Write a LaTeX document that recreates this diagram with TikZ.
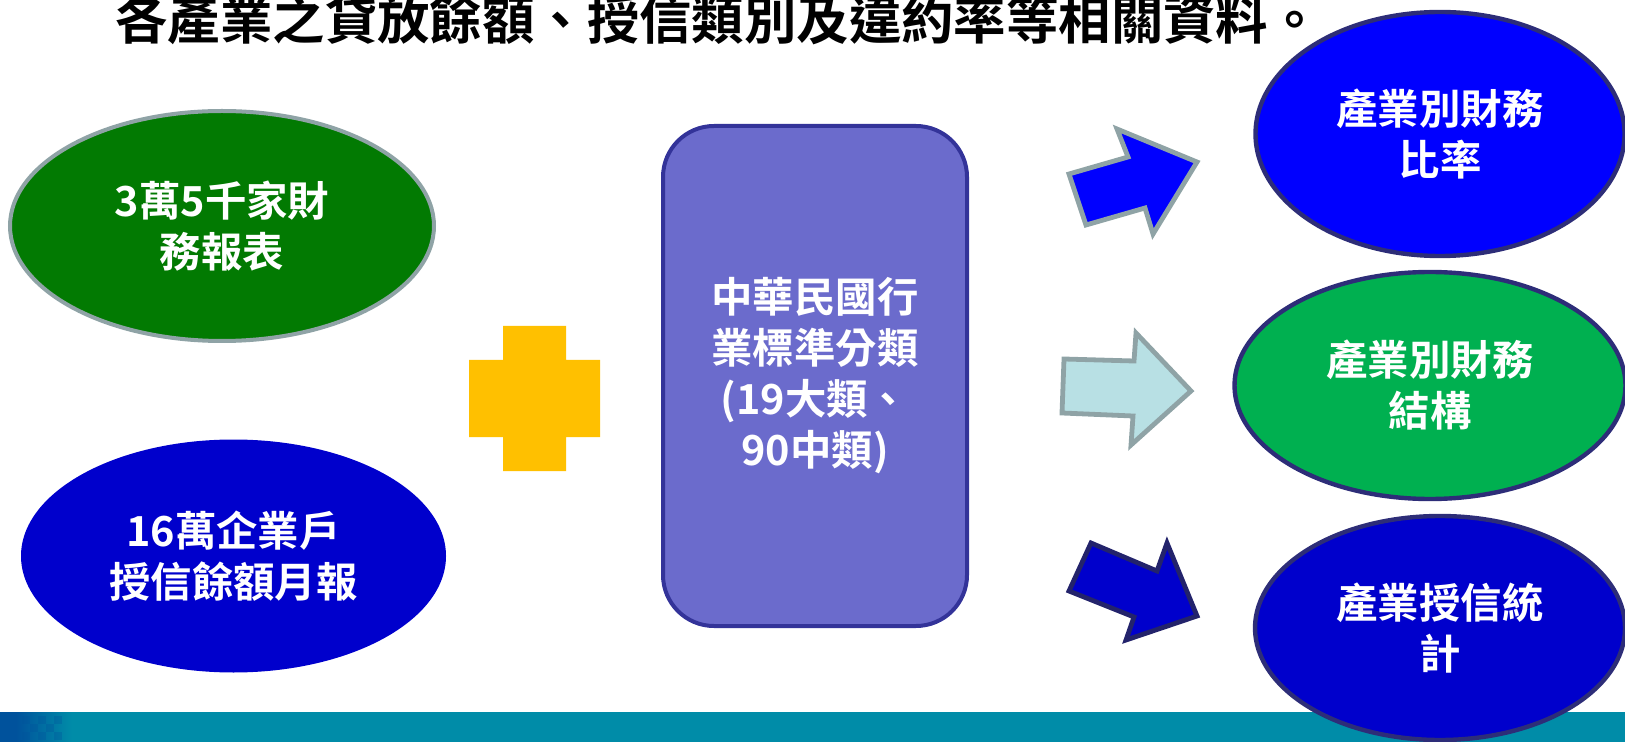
\documentclass[tikz,border=0pt]{standalone}
\usepackage{fontspec}
\newfontfamily\cjkb{Noto Sans CJK TC Bold}
\usetikzlibrary{shapes.geometric}
\definecolor{lgreen}{RGB}{2,122,2}
\definecolor{lgray}{RGB}{143,163,166}
\definecolor{dblue}{RGB}{0,0,204}
\definecolor{bblue}{RGB}{0,0,255}
\definecolor{rgreen}{RGB}{0,176,80}
\definecolor{navy}{RGB}{45,45,120}
\definecolor{boxfill}{RGB}{107,107,204}
\definecolor{boxline}{RGB}{51,51,153}
\definecolor{plusy}{RGB}{255,192,0}
\definecolor{lcyan}{RGB}{184,224,228}
\definecolor{arrnavy}{RGB}{35,35,107}
\definecolor{barteal}{RGB}{0,140,168}
\definecolor{bardark}{RGB}{0,82,156}
\tikzset{
  lbl/.style={text=white, align=center, inner sep=0pt,
    font=\cjkb\fontsize{20.7}{25.5}\selectfont},
  oval/.style={ellipse, lbl},
  blockarrow/.style={line width=2.4pt, line join=miter, miter limit=10},
}
\begin{document}
\begin{tikzpicture}[x=0.5pt,y=-0.5pt]
\useasboundingbox (0,0) rectangle (1625,742);
% bottom bar
\fill[barteal] (0,712) rectangle (1625,742);
\shade[left color=bardark, right color=barteal] (16,712) rectangle (72,742);
\fill[bardark] (0,712) rectangle (17,742);
\foreach \x/\y in {22/716,38/716,30/724,46/724,22/732,38/732,54/716,54/732}
  \fill[bardark, opacity=0.3] (\x,\y) rectangle ++(8,8);
% left ovals
\node[oval, fill=lgreen, draw=lgray, line width=2pt, minimum width=212pt, minimum height=115pt]
  (fin) at (222,226) {3萬5千家財\\務報表};
\node[oval, fill=dblue, minimum width=212.5pt, minimum height=116.5pt]
  (loan) at (233.5,556) {16萬企業戶\\授信餘額月報};
% plus
\fill[plusy] (503,360) -- (503,326) -- (566,326) -- (566,360) -- (600,360) -- (600,437)
  -- (566,437) -- (566,471) -- (503,471) -- (503,437) -- (469,437) -- (469,360) -- cycle;
% centre box
\node[lbl, rectangle, rounded corners=25.5pt, fill=boxfill, draw=boxline, line width=2pt,
  minimum width=152pt, minimum height=250pt] (std) at (815,376)
  {中華民國行\\業標準分類\\(19大類、\\90中類)};
% block arrows
\draw[blockarrow, fill=bblue, draw=lgray] (1086,225) -- (1069,174) -- (1128,157) -- (1117,129)
  -- (1197,162) -- (1153,234) -- (1145,208) -- cycle;
\draw[blockarrow, fill=lcyan, draw=lgray] (1064,359) -- (1134,361) -- (1136,333) -- (1191,391)
  -- (1131,445) -- (1133,416) -- (1062,413) -- cycle;
\draw[blockarrow, fill=dblue, draw=arrnavy] (1091,543) -- (1157,571) -- (1167,543) -- (1197,616)
  -- (1126,640) -- (1134,617) -- (1069,591) -- cycle;
% right ovals
\node[oval, fill=bblue, draw=navy, line width=2.2pt, minimum width=184.5pt, minimum height=122pt]
  (ratio) at (1440,134) {產業別財務\\比率};
\node[oval, fill=rgreen, draw=navy, line width=2.2pt, minimum width=195.5pt, minimum height=113.5pt]
  (struct) at (1430,385.5) {產業別財務\\結構};
\node[oval, fill=dblue, draw=navy, line width=2.2pt, minimum width=185pt, minimum height=112pt]
  (credit) at (1440,628) {產業授信統\\計};
% title
\node[anchor=base, inner sep=0pt, font=\cjkb\fontsize{26.2}{30}\selectfont] (title) at (718,40)
  {各產業之貸放餘額、授信類別及違約率等相關資料。};
\end{tikzpicture}
\end{document}
